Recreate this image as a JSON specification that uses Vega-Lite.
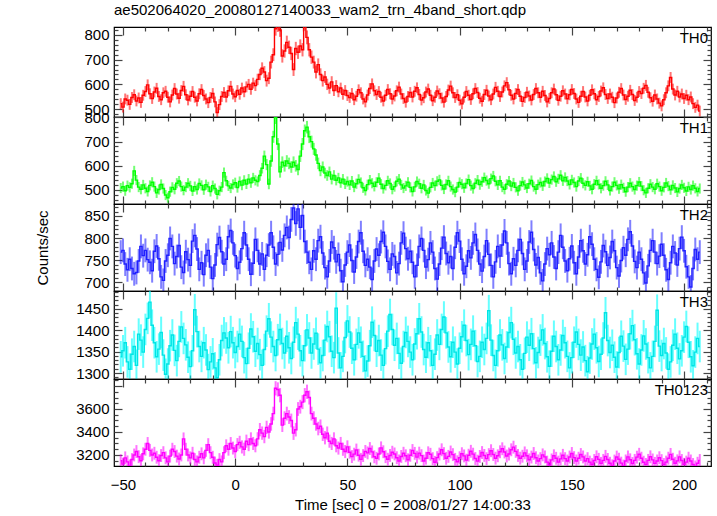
{
"$schema": "https://vega.github.io/schema/vega-lite/v6.json",
"padding": {"left": 35, "top": 2, "right": 5, "bottom": 0},
"spacing": 0,
"bounds": "flush",
"config": {
  "view": {"stroke": "#000", "strokeWidth": 1.2},
  "font": "Liberation Sans",
  "concat": {"spacing": 0},
  "axis": {"labelFont": "Liberation Sans", "labelFontSize": 15, "labelColor": "#000", "titleFont": "Liberation Sans", "titleFontSize": 15, "titleFontWeight": "normal", "titleColor": "#000", "domain": false, "grid": false, "tickColor": "#444", "tickWidth": 1.2, "labelFlush": false, "labelOverlap": false, "format": "d"},
  "title": {"font": "Liberation Sans", "fontSize": 15, "fontWeight": "normal", "color": "#000"}
},
"datasets": {
"th0": [
{"t":-51,"v":522,"e":22},{"t":-50,"v":508,"e":22},{"t":-49,"v":541,"e":22},{"t":-48,"v":536,"e":22},{"t":-47,"v":519,"e":22},{"t":-46,"v":547,"e":22},{"t":-45,"v":558,"e":22},{"t":-44,"v":533,"e":22},{"t":-43,"v":545,"e":22},{"t":-42,"v":527,"e":22},{"t":-41,"v":556,"e":22},{"t":-40,"v":571,"e":22},{"t":-39,"v":598,"e":22},{"t":-38,"v":562,"e":22},{"t":-37,"v":543,"e":22},{"t":-36,"v":569,"e":22},{"t":-35,"v":584,"e":22},{"t":-34,"v":551,"e":22},{"t":-33,"v":538,"e":22},{"t":-32,"v":566,"e":22},{"t":-31,"v":572,"e":22},{"t":-30,"v":548,"e":22},{"t":-29,"v":529,"e":22},{"t":-28,"v":557,"e":22},{"t":-27,"v":583,"e":22},{"t":-26,"v":561,"e":22},{"t":-25,"v":544,"e":22},{"t":-24,"v":575,"e":22},{"t":-23,"v":592,"e":22},{"t":-22,"v":558,"e":22},{"t":-21,"v":537,"e":22},{"t":-20,"v":552,"e":22},{"t":-19,"v":571,"e":22},{"t":-18,"v":548,"e":22},{"t":-17,"v":533,"e":22},{"t":-16,"v":562,"e":22},{"t":-15,"v":579,"e":22},{"t":-14,"v":555,"e":22},{"t":-13,"v":541,"e":22},{"t":-12,"v":526,"e":22},{"t":-11,"v":547,"e":22},{"t":-10,"v":563,"e":22},{"t":-9,"v":529,"e":22},{"t":-8,"v":486,"e":22},{"t":-7,"v":518,"e":22},{"t":-6,"v":551,"e":22},{"t":-5,"v":567,"e":22},{"t":-4,"v":549,"e":22},{"t":-3,"v":574,"e":22},{"t":-2,"v":592,"e":22},{"t":-1,"v":561,"e":22},
{"t":0,"v":550,"e":22},{"t":1,"v":575,"e":22},{"t":2,"v":560,"e":22},{"t":3,"v":585,"e":22},{"t":4,"v":570,"e":22},{"t":5,"v":590,"e":22},{"t":6,"v":600,"e":22},{"t":7,"v":580,"e":22},{"t":8,"v":605,"e":22},{"t":9,"v":595,"e":22},{"t":10,"v":620,"e":23},{"t":11,"v":640,"e":23},{"t":12,"v":665,"e":24},{"t":13,"v":650,"e":24},{"t":14,"v":615,"e":24},{"t":15,"v":625,"e":24},{"t":16,"v":690,"e":26},{"t":17,"v":720,"e":26},{"t":18,"v":825,"e":28},{"t":19,"v":840,"e":28},{"t":20,"v":820,"e":28},{"t":21,"v":715,"e":27},{"t":22,"v":735,"e":27},{"t":23,"v":770,"e":27},{"t":24,"v":750,"e":27},{"t":25,"v":725,"e":27},{"t":26,"v":660,"e":26},{"t":27,"v":745,"e":27},{"t":28,"v":730,"e":27},{"t":29,"v":755,"e":27},{"t":30,"v":740,"e":27},{"t":31,"v":845,"e":28},{"t":32,"v":790,"e":28},{"t":33,"v":740,"e":27},{"t":34,"v":710,"e":27},{"t":35,"v":690,"e":26},{"t":36,"v":650,"e":26},{"t":37,"v":680,"e":25},{"t":38,"v":640,"e":25},{"t":39,"v":615,"e":24},{"t":40,"v":630,"e":24},{"t":41,"v":600,"e":23},{"t":42,"v":585,"e":23},{"t":43,"v":610,"e":23},{"t":44,"v":575,"e":22},{"t":45,"v":595,"e":22},{"t":46,"v":570,"e":22},{"t":47,"v":585,"e":22},{"t":48,"v":560,"e":22},{"t":49,"v":575,"e":22},{"t":50,"v":555,"e":22},
{"t":51,"v":547,"e":22},{"t":52,"v":563,"e":22},{"t":53,"v":538,"e":22},{"t":54,"v":552,"e":22},{"t":55,"v":578,"e":22},{"t":56,"v":566,"e":22},{"t":57,"v":541,"e":22},{"t":58,"v":529,"e":22},{"t":59,"v":557,"e":22},{"t":60,"v":583,"e":22},{"t":61,"v":602,"e":22},{"t":62,"v":574,"e":22},{"t":63,"v":559,"e":22},{"t":64,"v":571,"e":22},{"t":65,"v":548,"e":22},{"t":66,"v":533,"e":22},{"t":67,"v":556,"e":22},{"t":68,"v":579,"e":22},{"t":69,"v":562,"e":22},{"t":70,"v":541,"e":22},{"t":71,"v":553,"e":22},{"t":72,"v":574,"e":22},{"t":73,"v":589,"e":22},{"t":74,"v":561,"e":22},{"t":75,"v":543,"e":22},{"t":76,"v":528,"e":22},{"t":77,"v":551,"e":22},{"t":78,"v":567,"e":22},{"t":79,"v":549,"e":22},{"t":80,"v":572,"e":22},{"t":81,"v":586,"e":22},{"t":82,"v":559,"e":22},{"t":83,"v":537,"e":22},{"t":84,"v":546,"e":22},{"t":85,"v":569,"e":22},{"t":86,"v":581,"e":22},{"t":87,"v":556,"e":22},{"t":88,"v":534,"e":22},{"t":89,"v":548,"e":22},{"t":90,"v":573,"e":22},{"t":91,"v":562,"e":22},{"t":92,"v":545,"e":22},{"t":93,"v":528,"e":22},{"t":94,"v":551,"e":22},{"t":95,"v":577,"e":22},{"t":96,"v":593,"e":22},{"t":97,"v":566,"e":22},{"t":98,"v":547,"e":22},{"t":99,"v":558,"e":22},{"t":100,"v":536,"e":22},
{"t":101,"v":521,"e":22},{"t":102,"v":548,"e":22},{"t":103,"v":571,"e":22},{"t":104,"v":556,"e":22},{"t":105,"v":539,"e":22},{"t":106,"v":562,"e":22},{"t":107,"v":583,"e":22},{"t":108,"v":567,"e":22},{"t":109,"v":544,"e":22},{"t":110,"v":532,"e":22},{"t":111,"v":559,"e":22},{"t":112,"v":576,"e":22},{"t":113,"v":553,"e":22},{"t":114,"v":538,"e":22},{"t":115,"v":561,"e":22},{"t":116,"v":588,"e":22},{"t":117,"v":572,"e":22},{"t":118,"v":551,"e":22},{"t":119,"v":569,"e":22},{"t":120,"v":594,"e":22},{"t":121,"v":607,"e":22},{"t":122,"v":578,"e":22},{"t":123,"v":556,"e":22},{"t":124,"v":541,"e":22},{"t":125,"v":563,"e":22},{"t":126,"v":579,"e":22},{"t":127,"v":552,"e":22},{"t":128,"v":531,"e":22},{"t":129,"v":547,"e":22},{"t":130,"v":568,"e":22},{"t":131,"v":553,"e":22},{"t":132,"v":537,"e":22},{"t":133,"v":559,"e":22},{"t":134,"v":583,"e":22},{"t":135,"v":566,"e":22},{"t":136,"v":548,"e":22},{"t":137,"v":572,"e":22},{"t":138,"v":555,"e":22},{"t":139,"v":529,"e":22},{"t":140,"v":543,"e":22},{"t":141,"v":566,"e":22},{"t":142,"v":581,"e":22},{"t":143,"v":558,"e":22},{"t":144,"v":536,"e":22},{"t":145,"v":552,"e":22},{"t":146,"v":574,"e":22},{"t":147,"v":561,"e":22},{"t":148,"v":542,"e":22},{"t":149,"v":558,"e":22},{"t":150,"v":579,"e":22},
{"t":151,"v":563,"e":22},{"t":152,"v":541,"e":22},{"t":153,"v":527,"e":22},{"t":154,"v":552,"e":22},{"t":155,"v":571,"e":22},{"t":156,"v":549,"e":22},{"t":157,"v":533,"e":22},{"t":158,"v":556,"e":22},{"t":159,"v":578,"e":22},{"t":160,"v":562,"e":22},{"t":161,"v":538,"e":22},{"t":162,"v":551,"e":22},{"t":163,"v":573,"e":22},{"t":164,"v":586,"e":22},{"t":165,"v":559,"e":22},{"t":166,"v":543,"e":22},{"t":167,"v":561,"e":22},{"t":168,"v":548,"e":22},{"t":169,"v":526,"e":22},{"t":170,"v":545,"e":22},{"t":171,"v":568,"e":22},{"t":172,"v":583,"e":22},{"t":173,"v":557,"e":22},{"t":174,"v":539,"e":22},{"t":175,"v":552,"e":22},{"t":176,"v":576,"e":22},{"t":177,"v":559,"e":22},{"t":178,"v":535,"e":22},{"t":179,"v":548,"e":22},{"t":180,"v":571,"e":22},{"t":181,"v":563,"e":22},{"t":182,"v":584,"e":22},{"t":183,"v":596,"e":22},{"t":184,"v":568,"e":22},{"t":185,"v":546,"e":22},{"t":186,"v":532,"e":22},{"t":187,"v":557,"e":22},{"t":188,"v":541,"e":22},{"t":189,"v":524,"e":22},{"t":190,"v":513,"e":22},{"t":191,"v":538,"e":22},{"t":192,"v":566,"e":22},{"t":193,"v":594,"e":22},{"t":194,"v":628,"e":22},{"t":195,"v":581,"e":22},{"t":196,"v":557,"e":22},{"t":197,"v":572,"e":22},{"t":198,"v":549,"e":22},{"t":199,"v":561,"e":22},{"t":200,"v":543,"e":22},{"t":201,"v":556,"e":22},{"t":202,"v":538,"e":22},{"t":203,"v":549,"e":22},{"t":204,"v":522,"e":22},{"t":205,"v":507,"e":22},{"t":206,"v":516,"e":22},{"t":207,"v":492,"e":22}
],
"th1": [
{"t":-51,"v":508,"e":21},{"t":-50,"v":514,"e":21},{"t":-49,"v":497,"e":21},{"t":-48,"v":518,"e":21},{"t":-47,"v":511,"e":21},{"t":-46,"v":526,"e":21},{"t":-45,"v":579,"e":21},{"t":-44,"v":541,"e":21},{"t":-43,"v":512,"e":21},{"t":-42,"v":503,"e":21},{"t":-41,"v":521,"e":21},{"t":-40,"v":507,"e":21},{"t":-39,"v":494,"e":21},{"t":-38,"v":519,"e":21},{"t":-37,"v":532,"e":21},{"t":-36,"v":514,"e":21},{"t":-35,"v":488,"e":21},{"t":-34,"v":502,"e":21},{"t":-33,"v":523,"e":21},{"t":-32,"v":506,"e":21},{"t":-31,"v":479,"e":21},{"t":-30,"v":468,"e":21},{"t":-29,"v":493,"e":21},{"t":-28,"v":511,"e":21},{"t":-27,"v":503,"e":21},{"t":-26,"v":528,"e":21},{"t":-25,"v":537,"e":21},{"t":-24,"v":514,"e":21},{"t":-23,"v":499,"e":21},{"t":-22,"v":512,"e":21},{"t":-21,"v":528,"e":21},{"t":-20,"v":517,"e":21},{"t":-19,"v":496,"e":21},{"t":-18,"v":514,"e":21},{"t":-17,"v":502,"e":21},{"t":-16,"v":527,"e":21},{"t":-15,"v":519,"e":21},{"t":-14,"v":501,"e":21},{"t":-13,"v":522,"e":21},{"t":-12,"v":513,"e":21},{"t":-11,"v":494,"e":21},{"t":-10,"v":518,"e":21},{"t":-9,"v":506,"e":21},{"t":-8,"v":482,"e":21},{"t":-7,"v":497,"e":21},{"t":-6,"v":512,"e":21},{"t":-5,"v":572,"e":21},{"t":-4,"v":538,"e":21},{"t":-3,"v":517,"e":21},{"t":-2,"v":508,"e":21},{"t":-1,"v":523,"e":21},
{"t":0,"v":530,"e":21},{"t":1,"v":510,"e":21},{"t":2,"v":535,"e":21},{"t":3,"v":520,"e":21},{"t":4,"v":540,"e":21},{"t":5,"v":525,"e":21},{"t":6,"v":545,"e":21},{"t":7,"v":530,"e":21},{"t":8,"v":550,"e":21},{"t":9,"v":540,"e":21},{"t":10,"v":535,"e":21},{"t":11,"v":560,"e":22},{"t":12,"v":590,"e":22},{"t":13,"v":640,"e":23},{"t":14,"v":605,"e":23},{"t":15,"v":525,"e":22},{"t":16,"v":620,"e":24},{"t":17,"v":720,"e":25},{"t":18,"v":800,"e":27},{"t":19,"v":690,"e":25},{"t":20,"v":575,"e":24},{"t":21,"v":615,"e":24},{"t":22,"v":600,"e":24},{"t":23,"v":620,"e":24},{"t":24,"v":610,"e":24},{"t":25,"v":595,"e":24},{"t":26,"v":615,"e":24},{"t":27,"v":600,"e":24},{"t":28,"v":585,"e":24},{"t":29,"v":640,"e":24},{"t":30,"v":690,"e":25},{"t":31,"v":745,"e":26},{"t":32,"v":760,"e":26},{"t":33,"v":720,"e":26},{"t":34,"v":700,"e":25},{"t":35,"v":670,"e":25},{"t":36,"v":645,"e":24},{"t":37,"v":610,"e":24},{"t":38,"v":580,"e":23},{"t":39,"v":595,"e":23},{"t":40,"v":570,"e":22},{"t":41,"v":560,"e":22},{"t":42,"v":575,"e":22},{"t":43,"v":545,"e":22},{"t":44,"v":560,"e":22},{"t":45,"v":540,"e":21},{"t":46,"v":550,"e":21},{"t":47,"v":530,"e":21},{"t":48,"v":545,"e":21},{"t":49,"v":525,"e":21},{"t":50,"v":535,"e":21},
{"t":51,"v":521,"e":21},{"t":52,"v":537,"e":21},{"t":53,"v":512,"e":21},{"t":54,"v":526,"e":21},{"t":55,"v":544,"e":21},{"t":56,"v":531,"e":21},{"t":57,"v":509,"e":21},{"t":58,"v":498,"e":21},{"t":59,"v":522,"e":21},{"t":60,"v":541,"e":21},{"t":61,"v":528,"e":21},{"t":62,"v":515,"e":21},{"t":63,"v":532,"e":21},{"t":64,"v":549,"e":21},{"t":65,"v":524,"e":21},{"t":66,"v":506,"e":21},{"t":67,"v":519,"e":21},{"t":68,"v":538,"e":21},{"t":69,"v":527,"e":21},{"t":70,"v":503,"e":21},{"t":71,"v":514,"e":21},{"t":72,"v":536,"e":21},{"t":73,"v":545,"e":21},{"t":74,"v":521,"e":21},{"t":75,"v":508,"e":21},{"t":76,"v":517,"e":21},{"t":77,"v":532,"e":21},{"t":78,"v":511,"e":21},{"t":79,"v":494,"e":21},{"t":80,"v":513,"e":21},{"t":81,"v":535,"e":21},{"t":82,"v":526,"e":21},{"t":83,"v":507,"e":21},{"t":84,"v":521,"e":21},{"t":85,"v":498,"e":21},{"t":86,"v":487,"e":21},{"t":87,"v":511,"e":21},{"t":88,"v":529,"e":21},{"t":89,"v":518,"e":21},{"t":90,"v":536,"e":21},{"t":91,"v":542,"e":21},{"t":92,"v":519,"e":21},{"t":93,"v":504,"e":21},{"t":94,"v":523,"e":21},{"t":95,"v":538,"e":21},{"t":96,"v":514,"e":21},{"t":97,"v":502,"e":21},{"t":98,"v":491,"e":21},{"t":99,"v":512,"e":21},{"t":100,"v":531,"e":21},
{"t":101,"v":524,"e":21},{"t":102,"v":509,"e":21},{"t":103,"v":527,"e":21},{"t":104,"v":543,"e":21},{"t":105,"v":518,"e":21},{"t":106,"v":506,"e":21},{"t":107,"v":528,"e":21},{"t":108,"v":541,"e":21},{"t":109,"v":522,"e":21},{"t":110,"v":534,"e":21},{"t":111,"v":551,"e":21},{"t":112,"v":539,"e":21},{"t":113,"v":526,"e":21},{"t":114,"v":547,"e":21},{"t":115,"v":558,"e":21},{"t":116,"v":536,"e":21},{"t":117,"v":521,"e":21},{"t":118,"v":538,"e":21},{"t":119,"v":512,"e":21},{"t":120,"v":503,"e":21},{"t":121,"v":524,"e":21},{"t":122,"v":537,"e":21},{"t":123,"v":516,"e":21},{"t":124,"v":529,"e":21},{"t":125,"v":511,"e":21},{"t":126,"v":497,"e":21},{"t":127,"v":518,"e":21},{"t":128,"v":533,"e":21},{"t":129,"v":521,"e":21},{"t":130,"v":508,"e":21},{"t":131,"v":526,"e":21},{"t":132,"v":539,"e":21},{"t":133,"v":514,"e":21},{"t":134,"v":503,"e":21},{"t":135,"v":522,"e":21},{"t":136,"v":531,"e":21},{"t":137,"v":517,"e":21},{"t":138,"v":535,"e":21},{"t":139,"v":548,"e":21},{"t":140,"v":529,"e":21},{"t":141,"v":543,"e":21},{"t":142,"v":556,"e":21},{"t":143,"v":534,"e":21},{"t":144,"v":546,"e":21},{"t":145,"v":561,"e":21},{"t":146,"v":538,"e":21},{"t":147,"v":552,"e":21},{"t":148,"v":537,"e":21},{"t":149,"v":523,"e":21},{"t":150,"v":542,"e":21},
{"t":151,"v":531,"e":21},{"t":152,"v":514,"e":21},{"t":153,"v":537,"e":21},{"t":154,"v":549,"e":21},{"t":155,"v":528,"e":21},{"t":156,"v":519,"e":21},{"t":157,"v":534,"e":21},{"t":158,"v":517,"e":21},{"t":159,"v":503,"e":21},{"t":160,"v":524,"e":21},{"t":161,"v":538,"e":21},{"t":162,"v":523,"e":21},{"t":163,"v":507,"e":21},{"t":164,"v":518,"e":21},{"t":165,"v":536,"e":21},{"t":166,"v":521,"e":21},{"t":167,"v":498,"e":21},{"t":168,"v":514,"e":21},{"t":169,"v":532,"e":21},{"t":170,"v":519,"e":21},{"t":171,"v":505,"e":21},{"t":172,"v":522,"e":21},{"t":173,"v":509,"e":21},{"t":174,"v":493,"e":21},{"t":175,"v":512,"e":21},{"t":176,"v":528,"e":21},{"t":177,"v":514,"e":21},{"t":178,"v":502,"e":21},{"t":179,"v":518,"e":21},{"t":180,"v":533,"e":21},{"t":181,"v":516,"e":21},{"t":182,"v":499,"e":21},{"t":183,"v":488,"e":21},{"t":184,"v":507,"e":21},{"t":185,"v":524,"e":21},{"t":186,"v":512,"e":21},{"t":187,"v":503,"e":21},{"t":188,"v":526,"e":21},{"t":189,"v":514,"e":21},{"t":190,"v":497,"e":21},{"t":191,"v":511,"e":21},{"t":192,"v":529,"e":21},{"t":193,"v":516,"e":21},{"t":194,"v":501,"e":21},{"t":195,"v":519,"e":21},{"t":196,"v":508,"e":21},{"t":197,"v":492,"e":21},{"t":198,"v":506,"e":21},{"t":199,"v":521,"e":21},{"t":200,"v":509,"e":21},{"t":201,"v":496,"e":21},{"t":202,"v":513,"e":21},{"t":203,"v":502,"e":21},{"t":204,"v":518,"e":21},{"t":205,"v":507,"e":21},{"t":206,"v":494,"e":21},{"t":207,"v":506,"e":21}
],
"th2": [
{"t":-51,"v":768,"e":27},{"t":-50,"v":772,"e":27},{"t":-49,"v":741,"e":27},{"t":-48,"v":728,"e":27},{"t":-47,"v":752,"e":27},{"t":-46,"v":731,"e":27},{"t":-45,"v":719,"e":27},{"t":-44,"v":722,"e":27},{"t":-43,"v":748,"e":27},{"t":-42,"v":781,"e":27},{"t":-41,"v":760,"e":27},{"t":-40,"v":772,"e":27},{"t":-39,"v":751,"e":27},{"t":-38,"v":745,"e":27},{"t":-37,"v":726,"e":27},{"t":-36,"v":770,"e":27},{"t":-35,"v":782,"e":27},{"t":-34,"v":753,"e":27},{"t":-33,"v":712,"e":27},{"t":-32,"v":704,"e":27},{"t":-31,"v":748,"e":27},{"t":-30,"v":761,"e":27},{"t":-29,"v":799,"e":27},{"t":-28,"v":781,"e":27},{"t":-27,"v":742,"e":27},{"t":-26,"v":758,"e":27},{"t":-25,"v":783,"e":27},{"t":-24,"v":734,"e":27},{"t":-23,"v":722,"e":27},{"t":-22,"v":769,"e":27},{"t":-21,"v":751,"e":27},{"t":-20,"v":738,"e":27},{"t":-19,"v":793,"e":27},{"t":-18,"v":806,"e":27},{"t":-17,"v":775,"e":27},{"t":-16,"v":729,"e":27},{"t":-15,"v":744,"e":27},{"t":-14,"v":717,"e":27},{"t":-13,"v":761,"e":27},{"t":-12,"v":772,"e":27},{"t":-11,"v":734,"e":27},{"t":-10,"v":708,"e":27},{"t":-9,"v":739,"e":27},{"t":-8,"v":785,"e":27},{"t":-7,"v":801,"e":27},{"t":-6,"v":769,"e":27},{"t":-5,"v":741,"e":27},{"t":-4,"v":752,"e":27},{"t":-3,"v":803,"e":27},{"t":-2,"v":817,"e":27},{"t":-1,"v":789,"e":27},
{"t":0,"v":760,"e":27},{"t":1,"v":731,"e":27},{"t":2,"v":745,"e":27},{"t":3,"v":776,"e":27},{"t":4,"v":812,"e":27},{"t":5,"v":784,"e":27},{"t":6,"v":752,"e":27},{"t":7,"v":718,"e":27},{"t":8,"v":743,"e":27},{"t":9,"v":797,"e":27},{"t":10,"v":772,"e":27},{"t":11,"v":741,"e":27},{"t":12,"v":764,"e":27},{"t":13,"v":729,"e":27},{"t":14,"v":761,"e":27},{"t":15,"v":784,"e":27},{"t":16,"v":812,"e":27},{"t":17,"v":779,"e":27},{"t":18,"v":741,"e":27},{"t":19,"v":763,"e":27},{"t":20,"v":790,"e":27},{"t":21,"v":773,"e":27},{"t":22,"v":806,"e":27},{"t":23,"v":824,"e":27},{"t":24,"v":801,"e":27},{"t":25,"v":842,"e":28},{"t":26,"v":868,"e":28},{"t":27,"v":833,"e":28},{"t":28,"v":866,"e":28},{"t":29,"v":824,"e":28},{"t":30,"v":851,"e":28},{"t":31,"v":792,"e":27},{"t":32,"v":768,"e":27},{"t":33,"v":745,"e":27},{"t":34,"v":729,"e":27},{"t":35,"v":771,"e":27},{"t":36,"v":752,"e":27},{"t":37,"v":794,"e":27},{"t":38,"v":803,"e":27},{"t":39,"v":766,"e":27},{"t":40,"v":733,"e":27},{"t":41,"v":712,"e":27},{"t":42,"v":748,"e":27},{"t":43,"v":791,"e":27},{"t":44,"v":778,"e":27},{"t":45,"v":746,"e":27},{"t":46,"v":763,"e":27},{"t":47,"v":726,"e":27},{"t":48,"v":701,"e":27},{"t":49,"v":739,"e":27},{"t":50,"v":768,"e":27},
{"t":51,"v":784,"e":27},{"t":52,"v":749,"e":27},{"t":53,"v":723,"e":27},{"t":54,"v":757,"e":27},{"t":55,"v":792,"e":27},{"t":56,"v":812,"e":27},{"t":57,"v":770,"e":27},{"t":58,"v":738,"e":27},{"t":59,"v":752,"e":27},{"t":60,"v":734,"e":27},{"t":61,"v":706,"e":27},{"t":62,"v":748,"e":27},{"t":63,"v":775,"e":27},{"t":64,"v":761,"e":27},{"t":65,"v":792,"e":27},{"t":66,"v":813,"e":27},{"t":67,"v":781,"e":27},{"t":68,"v":747,"e":27},{"t":69,"v":729,"e":27},{"t":70,"v":764,"e":27},{"t":71,"v":758,"e":27},{"t":72,"v":721,"e":27},{"t":73,"v":742,"e":27},{"t":74,"v":789,"e":27},{"t":75,"v":811,"e":27},{"t":76,"v":776,"e":27},{"t":77,"v":753,"e":27},{"t":78,"v":770,"e":27},{"t":79,"v":745,"e":27},{"t":80,"v":712,"e":27},{"t":81,"v":738,"e":27},{"t":82,"v":781,"e":27},{"t":83,"v":799,"e":27},{"t":84,"v":772,"e":27},{"t":85,"v":734,"e":27},{"t":86,"v":751,"e":27},{"t":87,"v":789,"e":27},{"t":88,"v":768,"e":27},{"t":89,"v":731,"e":27},{"t":90,"v":707,"e":27},{"t":91,"v":741,"e":27},{"t":92,"v":777,"e":27},{"t":93,"v":802,"e":27},{"t":94,"v":765,"e":27},{"t":95,"v":744,"e":27},{"t":96,"v":758,"e":27},{"t":97,"v":731,"e":27},{"t":98,"v":779,"e":27},{"t":99,"v":812,"e":27},{"t":100,"v":793,"e":27},
{"t":101,"v":752,"e":27},{"t":102,"v":719,"e":27},{"t":103,"v":736,"e":27},{"t":104,"v":771,"e":27},{"t":105,"v":755,"e":27},{"t":106,"v":789,"e":27},{"t":107,"v":808,"e":27},{"t":108,"v":772,"e":27},{"t":109,"v":741,"e":27},{"t":110,"v":725,"e":27},{"t":111,"v":758,"e":27},{"t":112,"v":794,"e":27},{"t":113,"v":763,"e":27},{"t":114,"v":738,"e":27},{"t":115,"v":712,"e":27},{"t":116,"v":746,"e":27},{"t":117,"v":781,"e":27},{"t":118,"v":759,"e":27},{"t":119,"v":784,"e":27},{"t":120,"v":816,"e":27},{"t":121,"v":789,"e":27},{"t":122,"v":742,"e":27},{"t":123,"v":719,"e":27},{"t":124,"v":753,"e":27},{"t":125,"v":738,"e":27},{"t":126,"v":772,"e":27},{"t":127,"v":797,"e":27},{"t":128,"v":765,"e":27},{"t":129,"v":729,"e":27},{"t":130,"v":748,"e":27},{"t":131,"v":791,"e":27},{"t":132,"v":813,"e":27},{"t":133,"v":774,"e":27},{"t":134,"v":739,"e":27},{"t":135,"v":756,"e":27},{"t":136,"v":721,"e":27},{"t":137,"v":703,"e":27},{"t":138,"v":741,"e":27},{"t":139,"v":776,"e":27},{"t":140,"v":762,"e":27},{"t":141,"v":789,"e":27},{"t":142,"v":757,"e":27},{"t":143,"v":731,"e":27},{"t":144,"v":768,"e":27},{"t":145,"v":806,"e":27},{"t":146,"v":779,"e":27},{"t":147,"v":748,"e":27},{"t":148,"v":726,"e":27},{"t":149,"v":753,"e":27},{"t":150,"v":782,"e":27},
{"t":151,"v":744,"e":27},{"t":152,"v":719,"e":27},{"t":153,"v":757,"e":27},{"t":154,"v":794,"e":27},{"t":155,"v":771,"e":27},{"t":156,"v":741,"e":27},{"t":157,"v":762,"e":27},{"t":158,"v":803,"e":27},{"t":159,"v":786,"e":27},{"t":160,"v":752,"e":27},{"t":161,"v":729,"e":27},{"t":162,"v":711,"e":27},{"t":163,"v":746,"e":27},{"t":164,"v":783,"e":27},{"t":165,"v":769,"e":27},{"t":166,"v":738,"e":27},{"t":167,"v":756,"e":27},{"t":168,"v":792,"e":27},{"t":169,"v":771,"e":27},{"t":170,"v":733,"e":27},{"t":171,"v":714,"e":27},{"t":172,"v":749,"e":27},{"t":173,"v":778,"e":27},{"t":174,"v":761,"e":27},{"t":175,"v":797,"e":27},{"t":176,"v":814,"e":27},{"t":177,"v":782,"e":27},{"t":178,"v":747,"e":27},{"t":179,"v":733,"e":27},{"t":180,"v":768,"e":27},{"t":181,"v":752,"e":27},{"t":182,"v":721,"e":27},{"t":183,"v":698,"e":27},{"t":184,"v":737,"e":27},{"t":185,"v":772,"e":27},{"t":186,"v":794,"e":27},{"t":187,"v":768,"e":27},{"t":188,"v":742,"e":27},{"t":189,"v":759,"e":27},{"t":190,"v":786,"e":27},{"t":191,"v":761,"e":27},{"t":192,"v":728,"e":27},{"t":193,"v":706,"e":27},{"t":194,"v":744,"e":27},{"t":195,"v":781,"e":27},{"t":196,"v":766,"e":27},{"t":197,"v":739,"e":27},{"t":198,"v":776,"e":27},{"t":199,"v":802,"e":27},{"t":200,"v":771,"e":27},{"t":201,"v":735,"e":27},{"t":202,"v":712,"e":27},{"t":203,"v":689,"e":27},{"t":204,"v":731,"e":27},{"t":205,"v":774,"e":27},{"t":206,"v":752,"e":27},{"t":207,"v":768,"e":27}
],
"th3": [
{"t":-51,"v":1338,"e":37},{"t":-50,"v":1352,"e":37},{"t":-49,"v":1371,"e":37},{"t":-48,"v":1326,"e":37},{"t":-47,"v":1309,"e":37},{"t":-46,"v":1344,"e":37},{"t":-45,"v":1362,"e":37},{"t":-44,"v":1318,"e":37},{"t":-43,"v":1391,"e":37},{"t":-42,"v":1377,"e":37},{"t":-41,"v":1349,"e":37},{"t":-40,"v":1402,"e":37},{"t":-39,"v":1428,"e":37},{"t":-38,"v":1466,"e":37},{"t":-37,"v":1412,"e":37},{"t":-36,"v":1371,"e":37},{"t":-35,"v":1338,"e":37},{"t":-34,"v":1356,"e":37},{"t":-33,"v":1395,"e":37},{"t":-32,"v":1342,"e":37},{"t":-31,"v":1297,"e":37},{"t":-30,"v":1321,"e":37},{"t":-29,"v":1364,"e":37},{"t":-28,"v":1389,"e":37},{"t":-27,"v":1353,"e":37},{"t":-26,"v":1329,"e":37},{"t":-25,"v":1374,"e":37},{"t":-24,"v":1408,"e":37},{"t":-23,"v":1381,"e":37},{"t":-22,"v":1366,"e":37},{"t":-21,"v":1337,"e":37},{"t":-20,"v":1315,"e":37},{"t":-19,"v":1352,"e":37},{"t":-18,"v":1448,"e":37},{"t":-17,"v":1397,"e":37},{"t":-16,"v":1362,"e":37},{"t":-15,"v":1339,"e":37},{"t":-14,"v":1371,"e":37},{"t":-13,"v":1354,"e":37},{"t":-12,"v":1308,"e":37},{"t":-11,"v":1326,"e":37},{"t":-10,"v":1345,"e":37},{"t":-9,"v":1312,"e":37},{"t":-8,"v":1289,"e":37},{"t":-7,"v":1331,"e":37},{"t":-6,"v":1376,"e":37},{"t":-5,"v":1394,"e":37},{"t":-4,"v":1382,"e":37},{"t":-3,"v":1359,"e":37},{"t":-2,"v":1397,"e":37},{"t":-1,"v":1371,"e":37},
{"t":0,"v":1348,"e":37},{"t":1,"v":1362,"e":37},{"t":2,"v":1391,"e":37},{"t":3,"v":1374,"e":37},{"t":4,"v":1336,"e":37},{"t":5,"v":1322,"e":37},{"t":6,"v":1358,"e":37},{"t":7,"v":1403,"e":37},{"t":8,"v":1385,"e":37},{"t":9,"v":1351,"e":37},{"t":10,"v":1369,"e":37},{"t":11,"v":1343,"e":37},{"t":12,"v":1318,"e":37},{"t":13,"v":1355,"e":37},{"t":14,"v":1398,"e":37},{"t":15,"v":1427,"e":37},{"t":16,"v":1384,"e":37},{"t":17,"v":1362,"e":37},{"t":18,"v":1341,"e":37},{"t":19,"v":1378,"e":37},{"t":20,"v":1402,"e":37},{"t":21,"v":1369,"e":37},{"t":22,"v":1347,"e":37},{"t":23,"v":1386,"e":37},{"t":24,"v":1359,"e":37},{"t":25,"v":1334,"e":37},{"t":26,"v":1372,"e":37},{"t":27,"v":1418,"e":37},{"t":28,"v":1391,"e":37},{"t":29,"v":1352,"e":37},{"t":30,"v":1329,"e":37},{"t":31,"v":1364,"e":37},{"t":32,"v":1401,"e":37},{"t":33,"v":1382,"e":37},{"t":34,"v":1347,"e":37},{"t":35,"v":1368,"e":37},{"t":36,"v":1393,"e":37},{"t":37,"v":1356,"e":37},{"t":38,"v":1324,"e":37},{"t":39,"v":1341,"e":37},{"t":40,"v":1377,"e":37},{"t":41,"v":1409,"e":37},{"t":42,"v":1385,"e":37},{"t":43,"v":1351,"e":37},{"t":44,"v":1336,"e":37},{"t":45,"v":1452,"e":37},{"t":46,"v":1347,"e":37},{"t":47,"v":1312,"e":37},{"t":48,"v":1339,"e":37},{"t":49,"v":1383,"e":37},{"t":50,"v":1422,"e":37},
{"t":51,"v":1396,"e":37},{"t":52,"v":1358,"e":37},{"t":53,"v":1331,"e":37},{"t":54,"v":1367,"e":37},{"t":55,"v":1394,"e":37},{"t":56,"v":1372,"e":37},{"t":57,"v":1339,"e":37},{"t":58,"v":1305,"e":37},{"t":59,"v":1328,"e":37},{"t":60,"v":1364,"e":37},{"t":61,"v":1419,"e":37},{"t":62,"v":1388,"e":37},{"t":63,"v":1351,"e":37},{"t":64,"v":1376,"e":37},{"t":65,"v":1342,"e":37},{"t":66,"v":1318,"e":37},{"t":67,"v":1357,"e":37},{"t":68,"v":1398,"e":37},{"t":69,"v":1437,"e":37},{"t":70,"v":1402,"e":37},{"t":71,"v":1365,"e":37},{"t":72,"v":1381,"e":37},{"t":73,"v":1346,"e":37},{"t":74,"v":1323,"e":37},{"t":75,"v":1362,"e":37},{"t":76,"v":1395,"e":37},{"t":77,"v":1374,"e":37},{"t":78,"v":1349,"e":37},{"t":79,"v":1331,"e":37},{"t":80,"v":1368,"e":37},{"t":81,"v":1392,"e":37},{"t":82,"v":1427,"e":37},{"t":83,"v":1396,"e":37},{"t":84,"v":1355,"e":37},{"t":85,"v":1337,"e":37},{"t":86,"v":1371,"e":37},{"t":87,"v":1352,"e":37},{"t":88,"v":1318,"e":37},{"t":89,"v":1344,"e":37},{"t":90,"v":1389,"e":37},{"t":91,"v":1367,"e":37},{"t":92,"v":1402,"e":37},{"t":93,"v":1431,"e":37},{"t":94,"v":1394,"e":37},{"t":95,"v":1361,"e":37},{"t":96,"v":1338,"e":37},{"t":97,"v":1372,"e":37},{"t":98,"v":1349,"e":37},{"t":99,"v":1321,"e":37},{"t":100,"v":1358,"e":37},
{"t":101,"v":1385,"e":37},{"t":102,"v":1412,"e":37},{"t":103,"v":1376,"e":37},{"t":104,"v":1343,"e":37},{"t":105,"v":1367,"e":37},{"t":106,"v":1398,"e":37},{"t":107,"v":1364,"e":37},{"t":108,"v":1327,"e":37},{"t":109,"v":1339,"e":37},{"t":110,"v":1372,"e":37},{"t":111,"v":1355,"e":37},{"t":112,"v":1381,"e":37},{"t":113,"v":1446,"e":37},{"t":114,"v":1377,"e":37},{"t":115,"v":1341,"e":37},{"t":116,"v":1318,"e":37},{"t":117,"v":1352,"e":37},{"t":118,"v":1389,"e":37},{"t":119,"v":1366,"e":37},{"t":120,"v":1334,"e":37},{"t":121,"v":1361,"e":37},{"t":122,"v":1395,"e":37},{"t":123,"v":1418,"e":37},{"t":124,"v":1379,"e":37},{"t":125,"v":1347,"e":37},{"t":126,"v":1362,"e":37},{"t":127,"v":1331,"e":37},{"t":128,"v":1309,"e":37},{"t":129,"v":1346,"e":37},{"t":130,"v":1384,"e":37},{"t":131,"v":1365,"e":37},{"t":132,"v":1392,"e":37},{"t":133,"v":1357,"e":37},{"t":134,"v":1324,"e":37},{"t":135,"v":1348,"e":37},{"t":136,"v":1377,"e":37},{"t":137,"v":1401,"e":37},{"t":138,"v":1369,"e":37},{"t":139,"v":1338,"e":37},{"t":140,"v":1316,"e":37},{"t":141,"v":1351,"e":37},{"t":142,"v":1386,"e":37},{"t":143,"v":1362,"e":37},{"t":144,"v":1331,"e":37},{"t":145,"v":1354,"e":37},{"t":146,"v":1388,"e":37},{"t":147,"v":1371,"e":37},{"t":148,"v":1339,"e":37},{"t":149,"v":1312,"e":37},{"t":150,"v":1336,"e":37},
{"t":151,"v":1372,"e":37},{"t":152,"v":1396,"e":37},{"t":153,"v":1367,"e":37},{"t":154,"v":1342,"e":37},{"t":155,"v":1361,"e":37},{"t":156,"v":1329,"e":37},{"t":157,"v":1303,"e":37},{"t":158,"v":1335,"e":37},{"t":159,"v":1368,"e":37},{"t":160,"v":1391,"e":37},{"t":161,"v":1359,"e":37},{"t":162,"v":1327,"e":37},{"t":163,"v":1344,"e":37},{"t":164,"v":1382,"e":37},{"t":165,"v":1441,"e":37},{"t":166,"v":1376,"e":37},{"t":167,"v":1348,"e":37},{"t":168,"v":1365,"e":37},{"t":169,"v":1337,"e":37},{"t":170,"v":1314,"e":37},{"t":171,"v":1348,"e":37},{"t":172,"v":1386,"e":37},{"t":173,"v":1363,"e":37},{"t":174,"v":1332,"e":37},{"t":175,"v":1356,"e":37},{"t":176,"v":1392,"e":37},{"t":177,"v":1411,"e":37},{"t":178,"v":1378,"e":37},{"t":179,"v":1345,"e":37},{"t":180,"v":1321,"e":37},{"t":181,"v":1354,"e":37},{"t":182,"v":1387,"e":37},{"t":183,"v":1368,"e":37},{"t":184,"v":1336,"e":37},{"t":185,"v":1312,"e":37},{"t":186,"v":1339,"e":37},{"t":187,"v":1374,"e":37},{"t":188,"v":1447,"e":37},{"t":189,"v":1363,"e":37},{"t":190,"v":1341,"e":37},{"t":191,"v":1369,"e":37},{"t":192,"v":1347,"e":37},{"t":193,"v":1309,"e":37},{"t":194,"v":1326,"e":37},{"t":195,"v":1365,"e":37},{"t":196,"v":1391,"e":37},{"t":197,"v":1358,"e":37},{"t":198,"v":1333,"e":37},{"t":199,"v":1352,"e":37},{"t":200,"v":1384,"e":37},{"t":201,"v":1409,"e":37},{"t":202,"v":1372,"e":37},{"t":203,"v":1338,"e":37},{"t":204,"v":1317,"e":37},{"t":205,"v":1349,"e":37},{"t":206,"v":1381,"e":37},{"t":207,"v":1362,"e":37}
],
"th0123": [
{"t":-51,"v":3150,"e":56},{"t":-50,"v":3120,"e":56},{"t":-49,"v":3175,"e":56},{"t":-48,"v":3140,"e":56},{"t":-47,"v":3105,"e":56},{"t":-46,"v":3160,"e":56},{"t":-45,"v":3200,"e":56},{"t":-44,"v":3230,"e":56},{"t":-43,"v":3185,"e":56},{"t":-42,"v":3150,"e":56},{"t":-41,"v":3210,"e":56},{"t":-40,"v":3250,"e":56},{"t":-39,"v":3300,"e":56},{"t":-38,"v":3240,"e":56},{"t":-37,"v":3200,"e":56},{"t":-36,"v":3215,"e":56},{"t":-35,"v":3180,"e":56},{"t":-34,"v":3150,"e":56},{"t":-33,"v":3195,"e":56},{"t":-32,"v":3220,"e":56},{"t":-31,"v":3175,"e":56},{"t":-30,"v":3140,"e":56},{"t":-29,"v":3190,"e":56},{"t":-28,"v":3250,"e":56},{"t":-27,"v":3230,"e":56},{"t":-26,"v":3190,"e":56},{"t":-25,"v":3165,"e":56},{"t":-24,"v":3200,"e":56},{"t":-23,"v":3340,"e":56},{"t":-22,"v":3250,"e":56},{"t":-21,"v":3200,"e":56},{"t":-20,"v":3175,"e":56},{"t":-19,"v":3215,"e":56},{"t":-18,"v":3160,"e":56},{"t":-17,"v":3140,"e":56},{"t":-16,"v":3180,"e":56},{"t":-15,"v":3210,"e":56},{"t":-14,"v":3175,"e":56},{"t":-13,"v":3240,"e":56},{"t":-12,"v":3290,"e":56},{"t":-11,"v":3220,"e":56},{"t":-10,"v":3180,"e":56},{"t":-9,"v":3130,"e":56},{"t":-8,"v":3110,"e":56},{"t":-7,"v":3160,"e":56},{"t":-6,"v":3140,"e":56},{"t":-5,"v":3220,"e":56},{"t":-4,"v":3280,"e":56},{"t":-3,"v":3250,"e":56},{"t":-2,"v":3300,"e":56},{"t":-1,"v":3260,"e":56},
{"t":0,"v":3230,"e":57},{"t":1,"v":3290,"e":57},{"t":2,"v":3310,"e":57},{"t":3,"v":3270,"e":57},{"t":4,"v":3250,"e":57},{"t":5,"v":3320,"e":57},{"t":6,"v":3290,"e":57},{"t":7,"v":3340,"e":57},{"t":8,"v":3300,"e":57},{"t":9,"v":3280,"e":57},{"t":10,"v":3340,"e":58},{"t":11,"v":3420,"e":58},{"t":12,"v":3390,"e":58},{"t":13,"v":3360,"e":58},{"t":14,"v":3440,"e":58},{"t":15,"v":3400,"e":58},{"t":16,"v":3470,"e":59},{"t":17,"v":3560,"e":60},{"t":18,"v":3780,"e":62},{"t":19,"v":3770,"e":62},{"t":20,"v":3720,"e":62},{"t":21,"v":3460,"e":60},{"t":22,"v":3520,"e":60},{"t":23,"v":3560,"e":60},{"t":24,"v":3530,"e":60},{"t":25,"v":3500,"e":60},{"t":26,"v":3390,"e":59},{"t":27,"v":3420,"e":59},{"t":28,"v":3600,"e":60},{"t":29,"v":3620,"e":60},{"t":30,"v":3660,"e":61},{"t":31,"v":3720,"e":62},{"t":32,"v":3750,"e":62},{"t":33,"v":3700,"e":61},{"t":34,"v":3560,"e":60},{"t":35,"v":3520,"e":60},{"t":36,"v":3470,"e":59},{"t":37,"v":3430,"e":59},{"t":38,"v":3450,"e":59},{"t":39,"v":3380,"e":58},{"t":40,"v":3350,"e":58},{"t":41,"v":3390,"e":58},{"t":42,"v":3320,"e":57},{"t":43,"v":3300,"e":57},{"t":44,"v":3340,"e":57},{"t":45,"v":3280,"e":57},{"t":46,"v":3260,"e":57},{"t":47,"v":3300,"e":57},{"t":48,"v":3250,"e":57},{"t":49,"v":3230,"e":57},{"t":50,"v":3270,"e":57},
{"t":51,"v":3224,"e":56},{"t":52,"v":3186,"e":56},{"t":53,"v":3207,"e":56},{"t":54,"v":3243,"e":56},{"t":55,"v":3198,"e":56},{"t":56,"v":3162,"e":56},{"t":57,"v":3195,"e":56},{"t":58,"v":3231,"e":56},{"t":59,"v":3218,"e":56},{"t":60,"v":3256,"e":56},{"t":61,"v":3227,"e":56},{"t":62,"v":3184,"e":56},{"t":63,"v":3171,"e":56},{"t":64,"v":3209,"e":56},{"t":65,"v":3262,"e":56},{"t":66,"v":3228,"e":56},{"t":67,"v":3185,"e":56},{"t":68,"v":3163,"e":56},{"t":69,"v":3196,"e":56},{"t":70,"v":3224,"e":56},{"t":71,"v":3209,"e":56},{"t":72,"v":3176,"e":56},{"t":73,"v":3148,"e":56},{"t":74,"v":3187,"e":56},{"t":75,"v":3215,"e":56},{"t":76,"v":3193,"e":56},{"t":77,"v":3158,"e":56},{"t":78,"v":3197,"e":56},{"t":79,"v":3239,"e":56},{"t":80,"v":3214,"e":56},{"t":81,"v":3181,"e":56},{"t":82,"v":3216,"e":56},{"t":83,"v":3194,"e":56},{"t":84,"v":3147,"e":56},{"t":85,"v":3172,"e":56},{"t":86,"v":3219,"e":56},{"t":87,"v":3206,"e":56},{"t":88,"v":3168,"e":56},{"t":89,"v":3136,"e":56},{"t":90,"v":3177,"e":56},{"t":91,"v":3208,"e":56},{"t":92,"v":3245,"e":56},{"t":93,"v":3212,"e":56},{"t":94,"v":3171,"e":56},{"t":95,"v":3188,"e":56},{"t":96,"v":3226,"e":56},{"t":97,"v":3203,"e":56},{"t":98,"v":3162,"e":56},{"t":99,"v":3141,"e":56},{"t":100,"v":3176,"e":56},
{"t":101,"v":3211,"e":56},{"t":102,"v":3192,"e":56},{"t":103,"v":3155,"e":56},{"t":104,"v":3198,"e":56},{"t":105,"v":3232,"e":56},{"t":106,"v":3207,"e":56},{"t":107,"v":3169,"e":56},{"t":108,"v":3146,"e":56},{"t":109,"v":3187,"e":56},{"t":110,"v":3221,"e":56},{"t":111,"v":3196,"e":56},{"t":112,"v":3168,"e":56},{"t":113,"v":3203,"e":56},{"t":114,"v":3237,"e":56},{"t":115,"v":3204,"e":56},{"t":116,"v":3172,"e":56},{"t":117,"v":3193,"e":56},{"t":118,"v":3228,"e":56},{"t":119,"v":3254,"e":56},{"t":120,"v":3226,"e":56},{"t":121,"v":3191,"e":56},{"t":122,"v":3208,"e":56},{"t":123,"v":3245,"e":56},{"t":124,"v":3268,"e":56},{"t":125,"v":3231,"e":56},{"t":126,"v":3196,"e":56},{"t":127,"v":3172,"e":56},{"t":128,"v":3189,"e":56},{"t":129,"v":3218,"e":56},{"t":130,"v":3193,"e":56},{"t":131,"v":3158,"e":56},{"t":132,"v":3182,"e":56},{"t":133,"v":3213,"e":56},{"t":134,"v":3176,"e":56},{"t":135,"v":3148,"e":56},{"t":136,"v":3168,"e":56},{"t":137,"v":3201,"e":56},{"t":138,"v":3183,"e":56},{"t":139,"v":3138,"e":56},{"t":140,"v":3112,"e":56},{"t":141,"v":3157,"e":56},{"t":142,"v":3193,"e":56},{"t":143,"v":3171,"e":56},{"t":144,"v":3138,"e":56},{"t":145,"v":3166,"e":56},{"t":146,"v":3197,"e":56},{"t":147,"v":3168,"e":56},{"t":148,"v":3147,"e":56},{"t":149,"v":3182,"e":56},{"t":150,"v":3213,"e":56},
{"t":151,"v":3177,"e":56},{"t":152,"v":3148,"e":56},{"t":153,"v":3172,"e":56},{"t":154,"v":3204,"e":56},{"t":155,"v":3183,"e":56},{"t":156,"v":3147,"e":56},{"t":157,"v":3168,"e":56},{"t":158,"v":3138,"e":56},{"t":159,"v":3117,"e":56},{"t":160,"v":3152,"e":56},{"t":161,"v":3184,"e":56},{"t":162,"v":3162,"e":56},{"t":163,"v":3127,"e":56},{"t":164,"v":3153,"e":56},{"t":165,"v":3188,"e":56},{"t":166,"v":3161,"e":56},{"t":167,"v":3128,"e":56},{"t":168,"v":3106,"e":56},{"t":169,"v":3147,"e":56},{"t":170,"v":3182,"e":56},{"t":171,"v":3163,"e":56},{"t":172,"v":3129,"e":56},{"t":173,"v":3104,"e":56},{"t":174,"v":3148,"e":56},{"t":175,"v":3183,"e":56},{"t":176,"v":3158,"e":56},{"t":177,"v":3126,"e":56},{"t":178,"v":3153,"e":56},{"t":179,"v":3181,"e":56},{"t":180,"v":3206,"e":56},{"t":181,"v":3172,"e":56},{"t":182,"v":3137,"e":56},{"t":183,"v":3118,"e":56},{"t":184,"v":3153,"e":56},{"t":185,"v":3184,"e":56},{"t":186,"v":3157,"e":56},{"t":187,"v":3127,"e":56},{"t":188,"v":3148,"e":56},{"t":189,"v":3176,"e":56},{"t":190,"v":3151,"e":56},{"t":191,"v":3117,"e":56},{"t":192,"v":3138,"e":56},{"t":193,"v":3172,"e":56},{"t":194,"v":3205,"e":56},{"t":195,"v":3163,"e":56},{"t":196,"v":3128,"e":56},{"t":197,"v":3149,"e":56},{"t":198,"v":3183,"e":56},{"t":199,"v":3152,"e":56},{"t":200,"v":3119,"e":56},{"t":201,"v":3138,"e":56},{"t":202,"v":3172,"e":56},{"t":203,"v":3148,"e":56},{"t":204,"v":3117,"e":56},{"t":205,"v":3096,"e":56},{"t":206,"v":3128,"e":56},{"t":207,"v":3152,"e":56}
]
},
"vconcat": [
{
  "width": 597, "height": 90,
  "title": {"text": "ae502064020_20080127140033_wam2_trn_4band_short.qdp", "anchor": "start", "frame": "group", "offset": 5},
  "data": {"name": "th0"},
  "layer": [
    {"mark": {"type": "errorbar", "color": "#ff0000", "opacity": 0.55, "thickness": 2, "clip": true},
     "encoding": {
       "x": {"field": "t", "type": "quantitative", "scale": {"domain": [-54, 212], "nice": false, "zero": false}, "axis": {"orient": "top", "values": [-50,-40,-30,-20,-10,0,10,20,30,40,50,60,70,80,90,100,110,120,130,140,150,160,170,180,190,200,210], "labels": false, "title": null, "tickSize": {"condition": {"test": "datum.value % 50 === 0", "value": -8}, "value": -4}}},
       "y": {"field": "v", "type": "quantitative", "scale": {"domain": [468, 832], "nice": false, "zero": false}, "axis": {"orient": "right", "values": [480,500,520,540,560,580,600,620,640,660,680,700,720,740,760,780,800,820], "labels": false, "title": null, "tickSize": {"condition": {"test": "datum.value % 100 === 0", "value": -8}, "value": -4}}},
       "yError": {"field": "e"}}},
    {"mark": {"type": "line", "interpolate": "step", "color": "#ff0000", "strokeWidth": 1.4, "clip": true},
     "encoding": {
       "x": {"field": "t", "type": "quantitative", "axis": {"orient": "bottom", "values": [-50,-40,-30,-20,-10,0,10,20,30,40,50,60,70,80,90,100,110,120,130,140,150,160,170,180,190,200,210], "labels": false, "title": null, "tickSize": {"condition": {"test": "datum.value % 50 === 0", "value": -8}, "value": -4}}},
       "y": {"field": "v", "type": "quantitative", "axis": {"orient": "left", "values": [480,500,520,540,560,580,600,620,640,660,680,700,720,740,760,780,800,820], "title": null, "labelPadding": 13, "labelExpr": "datum.value % 100 === 0 ? datum.label : ''", "tickSize": {"condition": {"test": "datum.value % 100 === 0", "value": -8}, "value": -4}}}}},
    {"data": {"values": [{"k": "TH0"}]},
     "mark": {"type": "text", "align": "right", "baseline": "top", "dx": -3, "dy": 4, "fontSize": 15, "font": "Liberation Sans", "color": "#000"},
     "encoding": {"text": {"field": "k"}, "x": {"datum": 212, "type": "quantitative", "axis": null}, "y": {"datum": 832, "type": "quantitative", "axis": null}}}
  ]
},
{
  "width": 597, "height": 87,
  "data": {"name": "th1"},
  "layer": [
    {"mark": {"type": "errorbar", "color": "#00ff00", "opacity": 0.55, "thickness": 2, "clip": true},
     "encoding": {
       "x": {"field": "t", "type": "quantitative", "scale": {"domain": [-54, 212], "nice": false, "zero": false}, "axis": {"orient": "top", "values": [-50,-40,-30,-20,-10,0,10,20,30,40,50,60,70,80,90,100,110,120,130,140,150,160,170,180,190,200,210], "labels": false, "title": null, "tickSize": {"condition": {"test": "datum.value % 50 === 0", "value": -8}, "value": -4}}},
       "y": {"field": "v", "type": "quantitative", "scale": {"domain": [442, 802], "nice": false, "zero": false}, "axis": {"orient": "right", "values": [460,480,500,520,540,560,580,600,620,640,660,680,700,720,740,760,780,800], "labels": false, "title": null, "tickSize": {"condition": {"test": "datum.value % 100 === 0", "value": -8}, "value": -4}}},
       "yError": {"field": "e"}}},
    {"mark": {"type": "line", "interpolate": "step", "color": "#00ff00", "strokeWidth": 1.4, "clip": true},
     "encoding": {
       "x": {"field": "t", "type": "quantitative", "axis": {"orient": "bottom", "values": [-50,-40,-30,-20,-10,0,10,20,30,40,50,60,70,80,90,100,110,120,130,140,150,160,170,180,190,200,210], "labels": false, "title": null, "tickSize": {"condition": {"test": "datum.value % 50 === 0", "value": -8}, "value": -4}}},
       "y": {"field": "v", "type": "quantitative", "axis": {"orient": "left", "values": [460,480,500,520,540,560,580,600,620,640,660,680,700,720,740,760,780,800], "title": null, "labelPadding": 13, "labelExpr": "datum.value % 100 === 0 ? datum.label : ''", "tickSize": {"condition": {"test": "datum.value % 100 === 0", "value": -8}, "value": -4}}}}},
    {"data": {"values": [{"k": "TH1"}]},
     "mark": {"type": "text", "align": "right", "baseline": "top", "dx": -3, "dy": 4, "fontSize": 15, "font": "Liberation Sans", "color": "#000"},
     "encoding": {"text": {"field": "k"}, "x": {"datum": 212, "type": "quantitative", "axis": null}, "y": {"datum": 802, "type": "quantitative", "axis": null}}}
  ]
},
{
  "width": 597, "height": 87,
  "data": {"name": "th2"},
  "layer": [
    {"mark": {"type": "errorbar", "color": "#0000ff", "opacity": 0.5, "thickness": 2, "clip": true},
     "encoding": {
       "x": {"field": "t", "type": "quantitative", "scale": {"domain": [-54, 212], "nice": false, "zero": false}, "axis": {"orient": "top", "values": [-50,-40,-30,-20,-10,0,10,20,30,40,50,60,70,80,90,100,110,120,130,140,150,160,170,180,190,200,210], "labels": false, "title": null, "tickSize": {"condition": {"test": "datum.value % 50 === 0", "value": -8}, "value": -4}}},
       "y": {"field": "v", "type": "quantitative", "scale": {"domain": [680, 877], "nice": false, "zero": false}, "axis": {"orient": "right", "values": [680,690,700,710,720,730,740,750,760,770,780,790,800,810,820,830,840,850,860,870], "labels": false, "title": null, "tickSize": {"condition": {"test": "datum.value % 50 === 0", "value": -8}, "value": -4}}},
       "yError": {"field": "e"}}},
    {"mark": {"type": "line", "interpolate": "step", "color": "#2020ff", "strokeWidth": 1.4, "clip": true},
     "encoding": {
       "x": {"field": "t", "type": "quantitative", "axis": {"orient": "bottom", "values": [-50,-40,-30,-20,-10,0,10,20,30,40,50,60,70,80,90,100,110,120,130,140,150,160,170,180,190,200,210], "labels": false, "title": null, "tickSize": {"condition": {"test": "datum.value % 50 === 0", "value": -8}, "value": -4}}},
       "y": {"field": "v", "type": "quantitative", "axis": {"orient": "left", "values": [680,690,700,710,720,730,740,750,760,770,780,790,800,810,820,830,840,850,860,870], "title": "Counts/sec", "titlePadding": 33, "labelPadding": 13, "labelExpr": "datum.value % 50 === 0 ? datum.label : ''", "tickSize": {"condition": {"test": "datum.value % 50 === 0", "value": -8}, "value": -4}}}}},
    {"data": {"values": [{"k": "TH2"}]},
     "mark": {"type": "text", "align": "right", "baseline": "top", "dx": -3, "dy": 4, "fontSize": 15, "font": "Liberation Sans", "color": "#000"},
     "encoding": {"text": {"field": "k"}, "x": {"datum": 212, "type": "quantitative", "axis": null}, "y": {"datum": 877, "type": "quantitative", "axis": null}}}
  ]
},
{
  "width": 597, "height": 88,
  "data": {"name": "th3"},
  "layer": [
    {"mark": {"type": "errorbar", "color": "#00ffff", "opacity": 0.6, "thickness": 2, "clip": true},
     "encoding": {
       "x": {"field": "t", "type": "quantitative", "scale": {"domain": [-54, 212], "nice": false, "zero": false}, "axis": {"orient": "top", "values": [-50,-40,-30,-20,-10,0,10,20,30,40,50,60,70,80,90,100,110,120,130,140,150,160,170,180,190,200,210], "labels": false, "title": null, "tickSize": {"condition": {"test": "datum.value % 50 === 0", "value": -8}, "value": -4}}},
       "y": {"field": "v", "type": "quantitative", "scale": {"domain": [1286, 1492], "nice": false, "zero": false}, "axis": {"orient": "right", "values": [1290,1300,1310,1320,1330,1340,1350,1360,1370,1380,1390,1400,1410,1420,1430,1440,1450,1460,1470,1480,1490], "labels": false, "title": null, "tickSize": {"condition": {"test": "datum.value % 50 === 0", "value": -8}, "value": -4}}},
       "yError": {"field": "e"}}},
    {"mark": {"type": "line", "interpolate": "step", "color": "#00e5e5", "strokeWidth": 1.4, "clip": true},
     "encoding": {
       "x": {"field": "t", "type": "quantitative", "axis": {"orient": "bottom", "values": [-50,-40,-30,-20,-10,0,10,20,30,40,50,60,70,80,90,100,110,120,130,140,150,160,170,180,190,200,210], "labels": false, "title": null, "tickSize": {"condition": {"test": "datum.value % 50 === 0", "value": -8}, "value": -4}}},
       "y": {"field": "v", "type": "quantitative", "axis": {"orient": "left", "values": [1290,1300,1310,1320,1330,1340,1350,1360,1370,1380,1390,1400,1410,1420,1430,1440,1450,1460,1470,1480,1490], "title": null, "labelPadding": 13, "labelExpr": "datum.value % 50 === 0 ? datum.label : ''", "tickSize": {"condition": {"test": "datum.value % 50 === 0", "value": -8}, "value": -4}}}}},
    {"data": {"values": [{"k": "TH3"}]},
     "mark": {"type": "text", "align": "right", "baseline": "top", "dx": -3, "dy": 4, "fontSize": 15, "font": "Liberation Sans", "color": "#000"},
     "encoding": {"text": {"field": "k"}, "x": {"datum": 212, "type": "quantitative", "axis": null}, "y": {"datum": 1492, "type": "quantitative", "axis": null}}}
  ]
},
{
  "width": 597, "height": 87,
  "data": {"name": "th0123"},
  "layer": [
    {"mark": {"type": "errorbar", "color": "#ff00ff", "opacity": 0.55, "thickness": 2, "clip": true},
     "encoding": {
       "x": {"field": "t", "type": "quantitative", "scale": {"domain": [-54, 212], "nice": false, "zero": false}, "axis": {"orient": "top", "values": [-50,-40,-30,-20,-10,0,10,20,30,40,50,60,70,80,90,100,110,120,130,140,150,160,170,180,190,200,210], "labels": false, "title": null, "tickSize": {"condition": {"test": "datum.value % 50 === 0", "value": -8}, "value": -4}}},
       "y": {"field": "v", "type": "quantitative", "scale": {"domain": [3104, 3861], "nice": false, "zero": false}, "axis": {"orient": "right", "values": [3150,3200,3250,3300,3350,3400,3450,3500,3550,3600,3650,3700,3750,3800,3850], "labels": false, "title": null, "tickSize": {"condition": {"test": "datum.value % 200 === 0", "value": -8}, "value": -4}}},
       "yError": {"field": "e"}}},
    {"mark": {"type": "line", "interpolate": "step", "color": "#ff00ff", "strokeWidth": 1.4, "clip": true},
     "encoding": {
       "x": {"field": "t", "type": "quantitative", "axis": {"orient": "bottom", "values": [-50,-40,-30,-20,-10,0,10,20,30,40,50,60,70,80,90,100,110,120,130,140,150,160,170,180,190,200,210], "title": "Time [sec] 0 = 2008/01/27 14:00:33", "titlePadding": 1, "labelPadding": 19, "labelExpr": "datum.value % 50 === 0 ? datum.label : ''", "tickSize": {"condition": {"test": "datum.value % 50 === 0", "value": -8}, "value": -4}}},
       "y": {"field": "v", "type": "quantitative", "axis": {"orient": "left", "values": [3150,3200,3250,3300,3350,3400,3450,3500,3550,3600,3650,3700,3750,3800,3850], "title": null, "labelPadding": 13, "labelExpr": "datum.value % 200 === 0 && datum.value < 3700 ? datum.label : ''", "tickSize": {"condition": {"test": "datum.value % 200 === 0", "value": -8}, "value": -4}}}}},
    {"data": {"values": [{"k": "TH0123"}]},
     "mark": {"type": "text", "align": "right", "baseline": "top", "dx": -3, "dy": 4, "fontSize": 15, "font": "Liberation Sans", "color": "#000"},
     "encoding": {"text": {"field": "k"}, "x": {"datum": 212, "type": "quantitative", "axis": null}, "y": {"datum": 3861, "type": "quantitative", "axis": null}}}
  ]
}
]
}
